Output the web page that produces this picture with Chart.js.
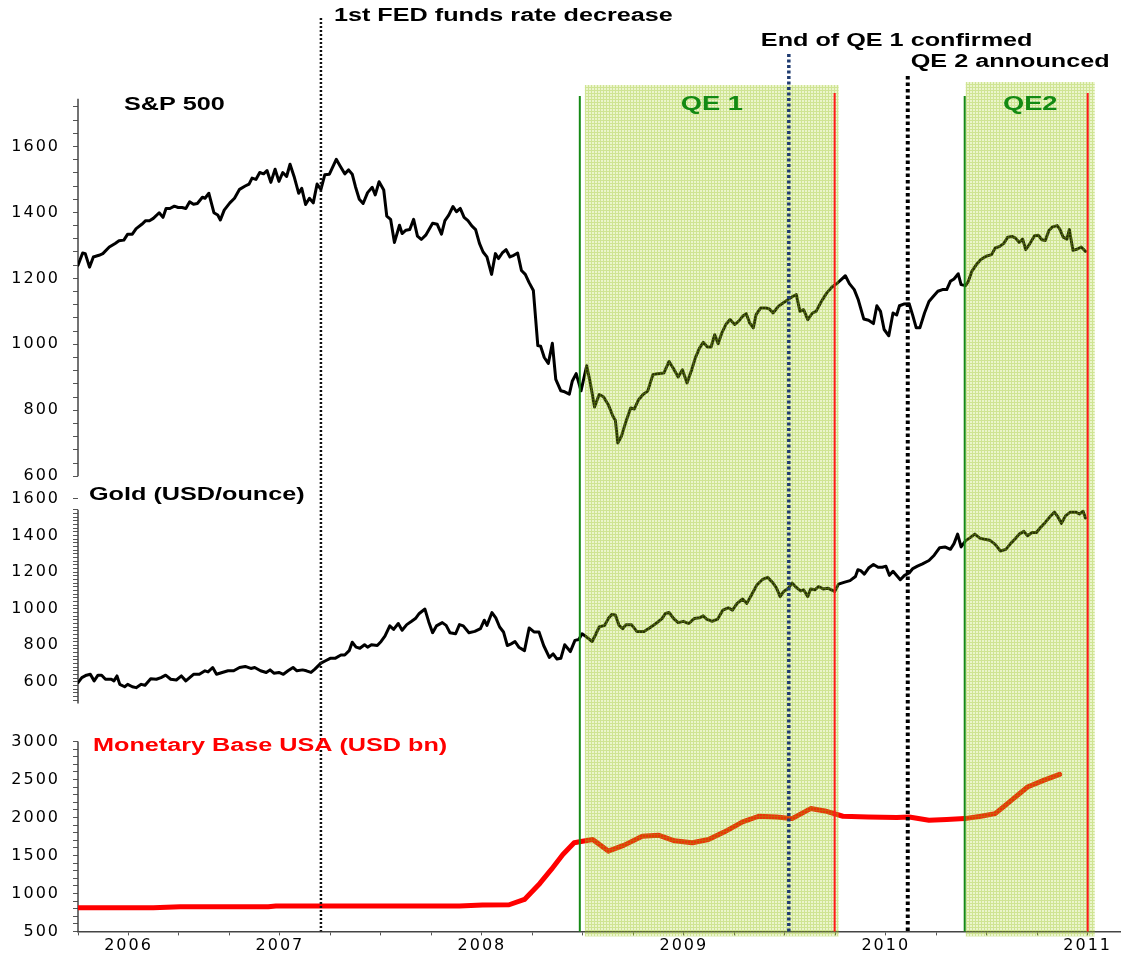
<!DOCTYPE html>
<html>
<head>
<meta charset="utf-8">
<title>S&amp;P 500, Gold and US Monetary Base around QE1 / QE2</title>
<script src="https://cdn.jsdelivr.net/npm/chart.js@4.4.1/dist/chart.umd.min.js"></script>
<style>
  html, body { margin: 0; padding: 0; background: #fff; }
  #chart { display: block; }
</style>
</head>
<body>
<canvas id="chart" width="1122" height="954"></canvas>
<script>
// x values are positions on the chart's own year axis (as labelled in the picture)
const spDates = [
  2006.000, 2006.023, 2006.036, 2006.057, 2006.076, 2006.104, 2006.123, 2006.155, 2006.184, 2006.203,
  2006.227, 2006.246, 2006.269, 2006.288, 2006.316, 2006.335, 2006.354, 2006.373, 2006.402, 2006.421,
  2006.436, 2006.455, 2006.477, 2006.496, 2006.515, 2006.534, 2006.553, 2006.572, 2006.591, 2006.616,
  2006.629, 2006.648, 2006.673, 2006.692, 2006.705, 2006.724, 2006.752, 2006.775, 2006.800, 2006.828,
  2006.847, 2006.862, 2006.881, 2006.900, 2006.919, 2006.936, 2006.955, 2006.976, 2006.995, 2007.014,
  2007.033, 2007.050, 2007.070, 2007.093, 2007.108, 2007.127, 2007.146, 2007.165, 2007.184, 2007.203,
  2007.222, 2007.245, 2007.279, 2007.298, 2007.321, 2007.340, 2007.358, 2007.374, 2007.393, 2007.412,
  2007.434, 2007.457, 2007.472, 2007.491, 2007.514, 2007.529, 2007.548, 2007.567, 2007.592, 2007.605,
  2007.624, 2007.643, 2007.662, 2007.681, 2007.700, 2007.722, 2007.756, 2007.779, 2007.800, 2007.817,
  2007.836, 2007.857, 2007.874, 2007.893, 2007.912, 2007.931, 2007.950, 2007.969, 2007.988, 2008.006,
  2008.025, 2008.048, 2008.067, 2008.082, 2008.101, 2008.120, 2008.139, 2008.158, 2008.177, 2008.196,
  2008.215, 2008.234, 2008.255, 2008.277, 2008.291, 2008.309, 2008.329, 2008.349, 2008.366, 2008.391,
  2008.410, 2008.433, 2008.448, 2008.467, 2008.491, 2008.519, 2008.537, 2008.558, 2008.581, 2008.602,
  2008.626, 2008.649, 2008.661, 2008.673, 2008.691, 2008.714, 2008.737, 2008.755, 2008.776, 2008.798,
  2008.821, 2008.847, 2008.869, 2008.901, 2008.927, 2008.950, 2008.972, 2008.993, 2009.016, 2009.039,
  2009.057, 2009.078, 2009.096, 2009.117, 2009.135, 2009.153, 2009.170, 2009.188, 2009.208, 2009.229,
  2009.252, 2009.273, 2009.294, 2009.309, 2009.326, 2009.344, 2009.358, 2009.380, 2009.406, 2009.424,
  2009.442, 2009.468, 2009.495, 2009.522, 2009.539, 2009.557, 2009.575, 2009.593, 2009.614, 2009.637,
  2009.655, 2009.681, 2009.708, 2009.734, 2009.761, 2009.782, 2009.800, 2009.820, 2009.844, 2009.864,
  2009.891, 2009.915, 2009.939, 2009.956, 2009.974, 2009.992, 2010.015, 2010.036, 2010.054, 2010.068,
  2010.089, 2010.116, 2010.134, 2010.151, 2010.169, 2010.192, 2010.214, 2010.235, 2010.258, 2010.281,
  2010.302, 2010.320, 2010.338, 2010.359, 2010.373, 2010.395, 2010.409, 2010.426, 2010.448, 2010.471,
  2010.497, 2010.524, 2010.542, 2010.565, 2010.586, 2010.604, 2010.625, 2010.643, 2010.661, 2010.678,
  2010.693, 2010.710, 2010.737, 2010.755, 2010.773, 2010.790, 2010.808, 2010.826, 2010.849, 2010.861,
  2010.879, 2010.897, 2010.909, 2010.927, 2010.950, 2010.968, 2010.989
];
const spValues = [
  1240, 1277, 1275, 1234, 1265, 1270, 1275, 1295, 1306, 1314,
  1316, 1334, 1334, 1351, 1364, 1375, 1375, 1382, 1399, 1385,
  1412, 1412, 1419, 1415, 1415, 1412, 1432, 1425, 1427, 1446,
  1443, 1458, 1399, 1392, 1377, 1407, 1429, 1443, 1470, 1480,
  1486, 1504, 1500, 1521, 1517, 1527, 1491, 1531, 1494, 1521,
  1509, 1546, 1509, 1458, 1473, 1424, 1443, 1429, 1486, 1470,
  1514, 1516, 1561, 1541, 1517, 1529, 1516, 1478, 1440, 1427,
  1460, 1476, 1453, 1493, 1468, 1389, 1379, 1309, 1361, 1336,
  1346, 1348, 1379, 1328, 1318, 1331, 1367, 1364, 1334, 1375,
  1392, 1418, 1402, 1412, 1385, 1375, 1359, 1348, 1306, 1280,
  1265, 1212, 1275, 1260, 1277, 1287, 1265, 1270, 1277, 1224,
  1212, 1187, 1163, 996, 994, 960, 942, 1003, 894, 859,
  856, 849, 889, 911, 859, 935, 883, 810, 848, 841,
  817, 782, 770, 701, 721, 767, 807, 804, 832, 848,
  858, 908, 911, 913, 948, 925, 901, 923, 883, 923,
  959, 989, 1006, 992, 992, 1029, 1002, 1034, 1060, 1075,
  1060, 1071, 1087, 1093, 1065, 1050, 1090, 1110, 1110, 1107,
  1095, 1115, 1127, 1138, 1145, 1151, 1100, 1105, 1075, 1095,
  1100, 1130, 1156, 1174, 1186, 1198, 1208, 1184, 1166, 1135,
  1077, 1073, 1063, 1117, 1100, 1045, 1026, 1095, 1089, 1117,
  1122, 1123, 1087, 1050, 1050, 1095, 1130, 1145, 1161, 1166,
  1166, 1191, 1198, 1214, 1181, 1178, 1191, 1221, 1241, 1257,
  1267, 1272, 1292, 1297, 1307, 1325, 1327, 1322, 1309, 1319,
  1287, 1302, 1329, 1331, 1317, 1315, 1345, 1356, 1360, 1350,
  1325, 1319, 1348, 1285, 1289, 1295, 1282
];

const goldDates = [
  2006.000, 2006.019, 2006.042, 2006.061, 2006.080, 2006.099, 2006.117, 2006.136, 2006.165, 2006.178,
  2006.193, 2006.207, 2006.231, 2006.246, 2006.269, 2006.288, 2006.313, 2006.332, 2006.360, 2006.388,
  2006.411, 2006.434, 2006.459, 2006.487, 2006.512, 2006.534, 2006.553, 2006.572, 2006.601, 2006.629,
  2006.644, 2006.667, 2006.686, 2006.714, 2006.743, 2006.771, 2006.800, 2006.828, 2006.856, 2006.875,
  2006.904, 2006.932, 2006.951, 2006.970, 2006.995, 2007.017, 2007.040, 2007.065, 2007.084, 2007.112,
  2007.131, 2007.154, 2007.173, 2007.203, 2007.226, 2007.249, 2007.273, 2007.302, 2007.321, 2007.343,
  2007.358, 2007.377, 2007.396, 2007.419, 2007.434, 2007.453, 2007.482, 2007.501, 2007.520, 2007.544,
  2007.563, 2007.586, 2007.605, 2007.628, 2007.652, 2007.671, 2007.690, 2007.718, 2007.737, 2007.756,
  2007.775, 2007.804, 2007.823, 2007.842, 2007.870, 2007.889, 2007.908, 2007.936, 2007.965, 2007.993,
  2008.012, 2008.025, 2008.050, 2008.069, 2008.088, 2008.107, 2008.126, 2008.145, 2008.164, 2008.183,
  2008.211, 2008.234, 2008.258, 2008.283, 2008.306, 2008.334, 2008.353, 2008.372, 2008.391, 2008.410,
  2008.438, 2008.461, 2008.480, 2008.496, 2008.519, 2008.546, 2008.563, 2008.581, 2008.608, 2008.626,
  2008.643, 2008.661, 2008.679, 2008.697, 2008.714, 2008.741, 2008.767, 2008.803, 2008.830, 2008.862,
  2008.892, 2008.909, 2008.927, 2008.950, 2008.972, 2008.998, 2009.025, 2009.051, 2009.078, 2009.096,
  2009.113, 2009.140, 2009.167, 2009.193, 2009.220, 2009.241, 2009.264, 2009.291, 2009.312, 2009.335,
  2009.362, 2009.388, 2009.415, 2009.442, 2009.459, 2009.477, 2009.495, 2009.518, 2009.536, 2009.557,
  2009.578, 2009.593, 2009.614, 2009.628, 2009.649, 2009.667, 2009.690, 2009.713, 2009.731, 2009.747,
  2009.766, 2009.797, 2009.823, 2009.850, 2009.862, 2009.876, 2009.894, 2009.915, 2009.939, 2009.962,
  2009.983, 2010.001, 2010.018, 2010.036, 2010.072, 2010.093, 2010.116, 2010.134, 2010.157, 2010.182,
  2010.214, 2010.240, 2010.267, 2010.293, 2010.320, 2010.338, 2010.356, 2010.373, 2010.395, 2010.418,
  2010.441, 2010.466, 2010.489, 2010.515, 2010.542, 2010.568, 2010.595, 2010.618, 2010.639, 2010.661,
  2010.684, 2010.702, 2010.725, 2010.746, 2010.764, 2010.790, 2010.813, 2010.835, 2010.852, 2010.870,
  2010.891, 2010.914, 2010.941, 2010.959, 2010.977, 2010.989
];
const goldValues = [
  596, 624, 637, 642, 606, 637, 637, 615, 615, 606,
  633, 587, 574, 587, 574, 569, 587, 582, 618, 615,
  624, 637, 615, 611, 633, 606, 624, 642, 642, 661,
  655, 679, 642, 652, 661, 661, 679, 685, 674, 679,
  661, 652, 666, 648, 652, 642, 661, 679, 661, 666,
  661, 652, 670, 703, 716, 729, 729, 747, 747, 771,
  817, 790, 784, 803, 790, 803, 799, 821, 850, 906,
  887, 919, 882, 913, 931, 946, 974, 998, 928, 869,
  906, 924, 909, 869, 863, 913, 906, 869, 876, 891,
  937, 909, 979, 950, 900, 873, 799, 808, 821, 790,
  771, 895, 873, 873, 799, 734, 753, 725, 729, 803,
  766, 827, 832, 863, 845, 821, 858, 900, 909, 946,
  968, 965, 909, 891, 913, 913, 876, 876, 895, 919,
  946, 974, 979, 946, 924, 931, 919, 946, 950, 961,
  943, 931, 943, 992, 1005, 992, 1029, 1053, 1029, 1075,
  1130, 1158, 1171, 1140, 1112, 1066, 1094, 1112, 1140, 1116,
  1097, 1103, 1066, 1108, 1103, 1121, 1108, 1112, 1103, 1094,
  1134, 1145, 1153, 1176, 1213, 1208, 1189, 1222, 1241, 1226,
  1226, 1232, 1182, 1204, 1158, 1182, 1195, 1219, 1232, 1245,
  1263, 1292, 1333, 1337, 1324, 1355, 1407, 1337, 1370, 1388,
  1407, 1385, 1379, 1374, 1351, 1315, 1324, 1355, 1379, 1407,
  1422, 1398, 1416, 1416, 1440, 1471, 1502, 1527, 1502, 1466,
  1508, 1527, 1527, 1517, 1532, 1495
];

const baseDates = [
  2006.000, 2006.373, 2006.506, 2006.942, 2006.980, 2007.510, 2007.889, 2008.003, 2008.135, 2008.211,
  2008.287, 2008.344, 2008.401, 2008.457, 2008.484, 2008.549, 2008.626, 2008.705, 2008.794, 2008.874,
  2008.954, 2009.042, 2009.122, 2009.202, 2009.291, 2009.371, 2009.459, 2009.536, 2009.628, 2009.699,
  2009.788, 2009.912, 2010.054, 2010.116, 2010.214, 2010.302, 2010.391, 2010.471, 2010.542, 2010.622,
  2010.702, 2010.781, 2010.861
];
const baseValues = [
  811, 811, 825, 825, 833, 833, 833, 846, 851, 921,
  1132, 1316, 1513, 1667, 1680, 1710, 1557, 1636, 1754, 1767,
  1693, 1667, 1710, 1811, 1942, 2016, 2007, 1985, 2117, 2086,
  2016, 2007, 1999, 2007, 1964, 1972, 1985, 2016, 2051, 2226,
  2401, 2488, 2567
];

const xTickValues = [2006.25, 2007, 2008, 2009, 2010, 2011];
const xTickLabels = ['2006', '2007', '2008', '2009', '2010', '2011'];

const bandStarts = [2008.51, 2010.396];
const bandEnds = [2009.767, 2011.035];
const bandLabels = ['QE 1', 'QE2'];
const startLines = [2008.485, 2010.391];
const endLines = [2009.747, 2011.0];

const eventDates = [2007.203, 2009.52, 2010.109];
const eventLabels = ['1st FED funds rate decrease', 'End of QE 1 confirmed', 'QE 2 announced'];

const panelTitles = ['S&P 500', 'Gold (USD/ounce)', 'Monetary Base USA (USD bn)'];

function pairs(xs, ys) {
  return xs.map((x, i) => ({ x: x, y: ys[i] }));
}

function hatch(ctx) {
  const tile = document.createElement('canvas');
  tile.width = 3;
  tile.height = 3;
  const t = tile.getContext('2d');
  t.fillStyle = 'rgba(172,212,40,0.24)';
  t.fillRect(1, 1, 2, 2);
  t.fillStyle = 'rgba(150,196,20,0.46)';
  t.fillRect(0, 0, 3, 1);
  t.fillRect(0, 1, 1, 2);
  return ctx.createPattern(tile, 'repeat');
}

// the picture's lettering is wide, so draw it stretched sideways
function wideText(ctx, text, x, y, size, color, align) {
  ctx.save();
  ctx.letterSpacing = '0px';
  ctx.font = 'bold ' + size + 'px "Liberation Sans", Arial, sans-serif';
  ctx.fillStyle = color;
  ctx.textBaseline = 'middle';
  ctx.textAlign = 'left';
  const w = ctx.measureText(text).width * 1.4;
  ctx.translate(align === 'center' ? x - w / 2 : x, y);
  ctx.scale(1.4, 1);
  ctx.fillText(text, 0, 0);
  ctx.restore();
}

function vline(ctx, x, y1, y2, color, width, dash) {
  ctx.save();
  ctx.strokeStyle = color;
  ctx.lineWidth = width;
  ctx.setLineDash(dash || []);
  ctx.beginPath();
  ctx.moveTo(x, y1);
  ctx.lineTo(x, y2);
  ctx.stroke();
  ctx.restore();
}

const overlay = {
  id: 'overlay',
  beforeDraw(chart) {
    chart.ctx.letterSpacing = '2px';
  },
  beforeDatasetsDraw(chart) {
    const ctx = chart.ctx;
    const s = chart.scales;
    const left = chart.chartArea.left;
    // axis line segments for each panel
    [[s.ySP, 1745, 600], [s.yGold, 1540, 482], [s.yBase, 3000, 500]].forEach(function (seg) {
      vline(ctx, left, seg[0].getPixelForValue(seg[1]), seg[0].getPixelForValue(seg[2]), '#444', 1.5);
    });
  },
  afterDatasetsDraw(chart) {
    const ctx = chart.ctx;
    const x = chart.scales.x;
    const area = chart.chartArea;
    const pattern = hatch(ctx);
    const bandTops = [area.top - 12, area.top - 15];

    ctx.save();
    ctx.fillStyle = pattern;
    bandStarts.forEach(function (b, i) {
      const x1 = x.getPixelForValue(b);
      const x2 = x.getPixelForValue(bandEnds[i]);
      ctx.fillRect(x1, bandTops[i], x2 - x1, area.bottom + 5 - bandTops[i]);
    });
    ctx.restore();

    startLines.forEach(function (d) {
      vline(ctx, x.getPixelForValue(d), area.top - 1, area.bottom, '#168a16', 2);
    });
    endLines.forEach(function (d) {
      vline(ctx, x.getPixelForValue(d), area.top - 4, area.bottom, '#ff1a1a', 2);
    });

    const evStyle = [
      { top: 18, color: '#111', width: 2.5, dash: [2, 2], dx: 13, ty: 16 },
      { top: 54, color: '#1f3b70', width: 3.5, dash: [3, 2.5], dx: -28, ty: 41 },
      { top: 76, color: '#000', width: 4, dash: [3.5, 3], dx: 3, ty: 62 }
    ];
    eventDates.forEach(function (d, i) {
      const px = x.getPixelForValue(d);
      const st = evStyle[i];
      vline(ctx, px, st.top, area.bottom, st.color, st.width, st.dash);
      wideText(ctx, eventLabels[i], px + st.dx, st.ty, 18, '#000', 'left');
    });

    bandLabels.forEach(function (label, i) {
      const cx = (x.getPixelForValue(bandStarts[i]) + x.getPixelForValue(bandEnds[i])) / 2;
      wideText(ctx, label, cx, area.top + 8, 19.5, '#138a13', 'center');
    });

    const sc = chart.scales;
    wideText(ctx, panelTitles[0], 124, sc.ySP.top + 8, 18, '#000', 'left');
    wideText(ctx, panelTitles[1], 89, sc.yGold.top + 2, 18, '#000', 'left');
    wideText(ctx, panelTitles[2], 93, sc.yBase.top + 24, 18, '#ff0000', 'left');
  }
};

function yAxis(min, max, weight, order, tickValues, labelEvery) {
  return {
    type: 'linear',
    position: 'left',
    stack: 'panels',
    stackWeight: weight,
    weight: order,
    min: min,
    max: max,
    afterBuildTicks: function (scale) {
      scale.ticks = tickValues.map(v => ({ value: v }));
    },
    afterFit: function (scale) {
      scale.width = 78;
    },
    border: { display: false },
    grid: { drawOnChartArea: false, drawTicks: true, tickLength: 5, color: '#555' },
    ticks: {
      autoSkip: false,
      padding: 13,
      color: '#000',
      font: { family: '"DejaVu Sans", Verdana, sans-serif', size: 16 },
      callback: function (v) { return v % labelEvery === 0 ? String(v) : ''; }
    }
  };
}

const spTicks = [];
for (let v = 600; v <= 1720; v += 40) spTicks.push(v);
const goldTicks = [];
for (let v = 500; v <= 1540; v += 20) goldTicks.push(v);
goldTicks.push(1600);
const baseTicks = [];
for (let v = 500; v <= 3000; v += 100) baseTicks.push(v);
const quarterTicks = [];
for (let v = 2006; v <= 2011; v += 0.25) quarterTicks.push(v);

new Chart(document.getElementById('chart'), {
  type: 'line',
  data: {
    datasets: [
      { label: 'S&P 500', data: pairs(spDates, spValues), yAxisID: 'ySP', borderColor: '#000', borderWidth: 3 },
      { label: 'Gold', data: pairs(goldDates, goldValues), yAxisID: 'yGold', borderColor: '#000', borderWidth: 3 },
      { label: 'Monetary Base', data: pairs(baseDates, baseValues), yAxisID: 'yBase', borderColor: '#ff0000', borderWidth: 5 }
    ]
  },
  options: {
    responsive: false,
    devicePixelRatio: 1,
    animation: false,
    layout: { padding: { top: 97, right: 2, bottom: 0, left: 0 } },
    elements: {
      point: { radius: 0 },
      line: { tension: 0, borderJoinStyle: 'round', borderCapStyle: 'round' }
    },
    plugins: { legend: { display: false }, tooltip: { enabled: false } },
    scales: {
      x: {
        type: 'linear',
        position: 'bottom',
        min: 2006,
        max: 2011.16,
        afterBuildTicks: function (scale) {
          scale.ticks = quarterTicks.map(v => ({ value: v }));
        },
        afterFit: function (scale) {
          scale.height = 22;
        },
        border: { display: true, color: '#444', width: 1.5 },
        grid: { drawOnChartArea: false, drawTicks: true, tickLength: 4, color: '#555' },
        ticks: {
          autoSkip: false,
          maxRotation: 0,
          padding: 1,
          color: '#000',
          font: { family: '"DejaVu Sans", Verdana, sans-serif', size: 16 },
          callback: function (v) {
            const i = xTickValues.findIndex(t => Math.abs(t - v) < 0.01);
            return i >= 0 ? xTickLabels[i] : '';
          }
        }
      },
      yBase: yAxis(500, 3263, 210, 1, baseTicks, 500),
      yGold: yAxis(384, 1633, 229, 2, goldTicks, 200),
      ySP: yAxis(550, 1750, 396, 3, spTicks, 200)
    }
  },
  plugins: [overlay]
});
</script>
</body>
</html>
